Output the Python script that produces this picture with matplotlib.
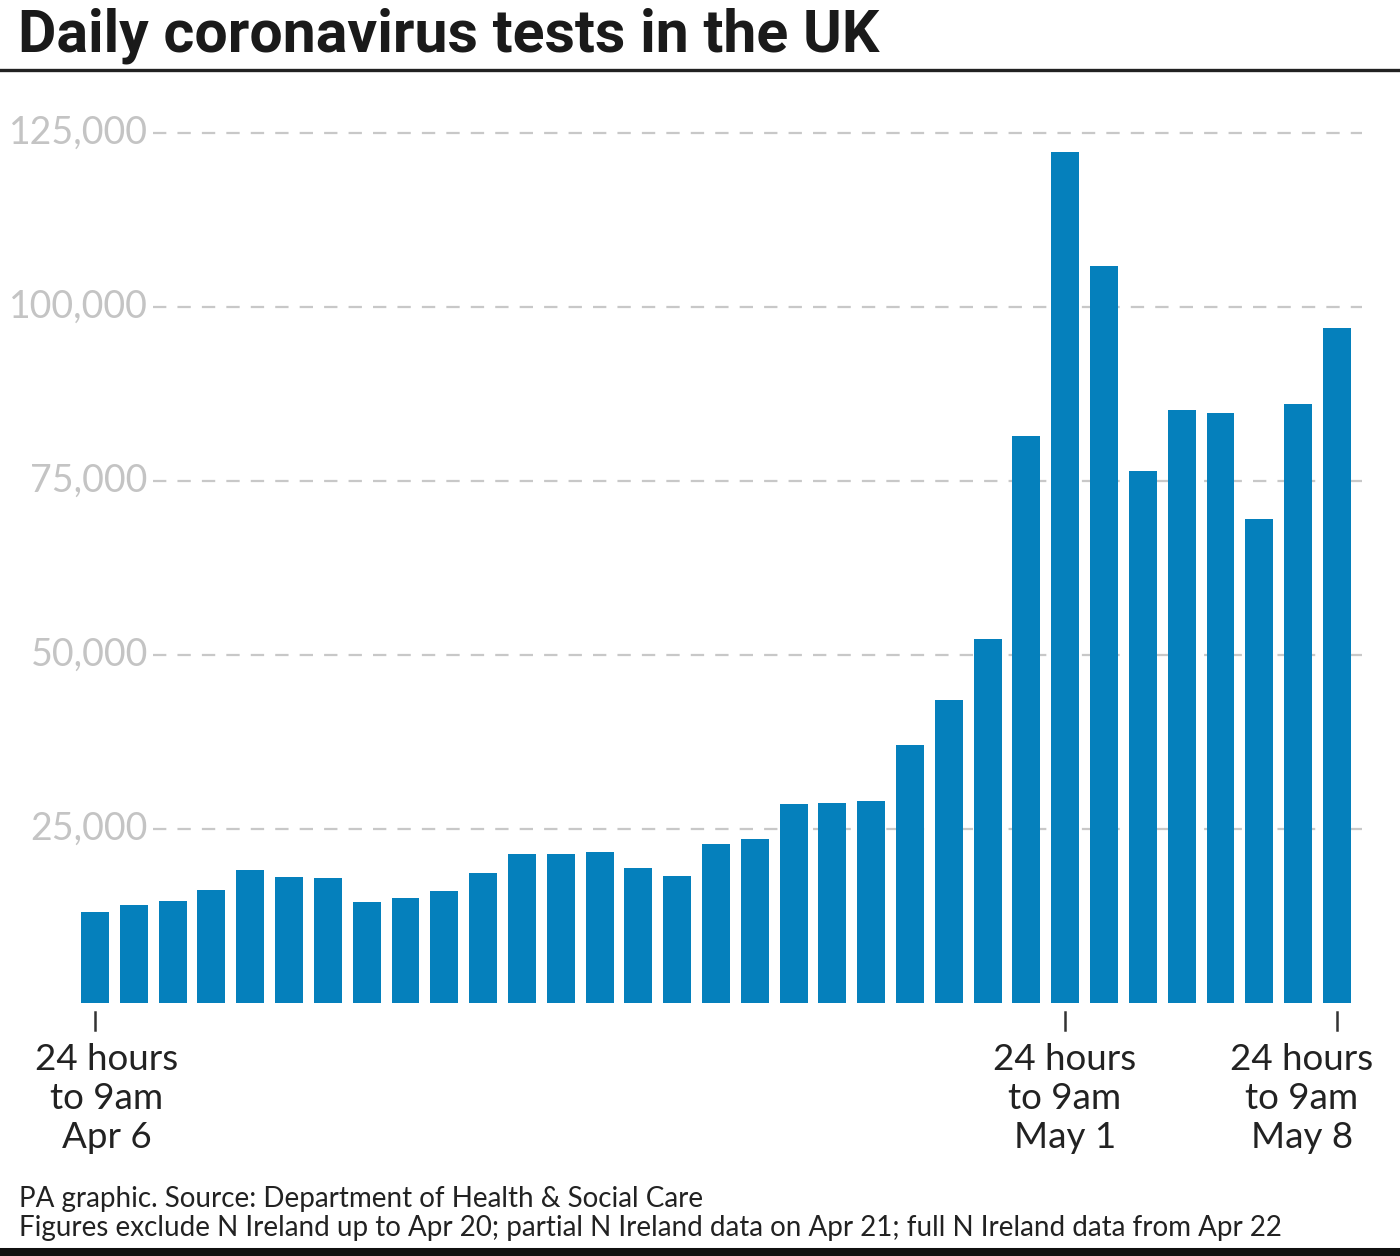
import matplotlib.pyplot as plt
from matplotlib.lines import Line2D

# daily tests, 24 hours to 9am, Apr 6 .. May 8
days = ['Apr 6', 'Apr 7', 'Apr 8', 'Apr 9', 'Apr 10', 'Apr 11', 'Apr 12', 'Apr 13',
        'Apr 14', 'Apr 15', 'Apr 16', 'Apr 17', 'Apr 18', 'Apr 19', 'Apr 20', 'Apr 21',
        'Apr 22', 'Apr 23', 'Apr 24', 'Apr 25', 'Apr 26', 'Apr 27', 'Apr 28', 'Apr 29',
        'Apr 30', 'May 1', 'May 2', 'May 3', 'May 4', 'May 5', 'May 6', 'May 7', 'May 8']
tests = [13050, 14050, 14700, 16200, 19070, 18100, 18000, 14500, 15040, 16040, 18670,
         21350, 21400, 21640, 19340, 18190, 22840, 23560, 28580, 28770, 29060, 37010,
         43520, 52260, 81440, 122270, 105850, 76460, 85170, 84790, 69470, 86060, 97000]

y_ticks = [25000, 50000, 75000, 100000, 125000]
y_labels = ['25,000', '50,000', '75,000', '100,000', '125,000']

marked_days = ['Apr 6', 'May 1', 'May 8']
marked_labels = [['24 hours', 'to 9am', 'Apr 6'],
                 ['24 hours', 'to 9am', 'May 1'],
                 ['24 hours', 'to 9am', 'May 8']]
label_x_px = [107, 1065, 1302]

title = 'Daily coronavirus tests in the UK'
footer = ['PA graphic. Source: Department of Health & Social Care',
          'Figures exclude N Ireland up to Apr 20; partial N Ireland data on Apr 21; full N Ireland data from Apr 22']

W, H = 1400, 1256
BLUE = '#0580bc'
BODY = ['Lato', 'DejaVu Sans']

fig = plt.figure(figsize=(W / 100, H / 100), dpi=100)
fig.patch.set_facecolor('white')


def fx(px):
    return px / W


def fy(py):
    return 1 - py / H


# axes: left 75px, right 1362px, baseline at 1003px
ax_left, ax_right, ax_bottom = 75, 1362, 1003
ymax = 127000
px_per_unit = 174.06 / 25000
ax_top = ax_bottom - ymax * px_per_unit
ax = fig.add_axes([fx(ax_left), fy(ax_bottom), fx(ax_right - ax_left), (ax_bottom - ax_top) / H])

x = list(range(len(days)))
spacing = 38.81
ax.set_xlim((ax_left - 95) / spacing, (ax_right - 95) / spacing)
ax.set_ylim(0, ymax)

ax.bar(x, tests, width=0.72, color=BLUE, zorder=3)

# dashed grid lines starting after the labels
grid_start = (153 - ax_left) / (ax_right - ax_left)
for v, lab in zip(y_ticks, y_labels):
    ax.plot([grid_start, 1], [v, v], transform=ax.get_yaxis_transform(),
            color='#c8c8c8', lw=1.6, linestyle=(0, (6, 5)), zorder=1, clip_on=False)
    ax.text(grid_start - 0.004, v, lab, transform=ax.get_yaxis_transform(),
            ha='right', va='center', fontsize=27, color='#c4c4c4', family=BODY)

for s in ax.spines.values():
    s.set_visible(False)
ax.set_xticks([])
ax.set_yticks([])

# tick marks under marked days
ax_h = ax_bottom - ax_top
for d in marked_days:
    i = days.index(d)
    ax.plot([i, i], [-9 / ax_h, -27 / ax_h], transform=ax.get_xaxis_transform(),
            color='#333333', lw=1.8, clip_on=False)

# multi-line labels
baselines = [1070, 1109, 1148]
for cx, lines in zip(label_x_px, marked_labels):
    for by, line in zip(baselines, lines):
        fig.text(fx(cx), fy(by), line, ha='center', va='baseline', fontsize=26.5,
                 color='#222222', family=BODY)

# title and rules
fig.text(fx(18), fy(52), title, ha='left', va='baseline', fontsize=42.5,
         fontweight='bold', color='#1a1a1a', family=['Roboto', 'DejaVu Sans'])
fig.add_artist(Line2D([0, 1], [fy(70), fy(70)], color='#222222', lw=2.4))
fig.add_artist(Line2D([0, 1], [fy(1252), fy(1252)], color='#111111', lw=6.5))

fig.text(fx(19), fy(1207), footer[0], ha='left', va='baseline', fontsize=20,
         color='#222222', family=BODY)
fig.text(fx(19), fy(1236), footer[1], ha='left', va='baseline', fontsize=20,
         color='#222222', family=BODY)

fig.savefig('out.png', dpi=100, facecolor='white')
